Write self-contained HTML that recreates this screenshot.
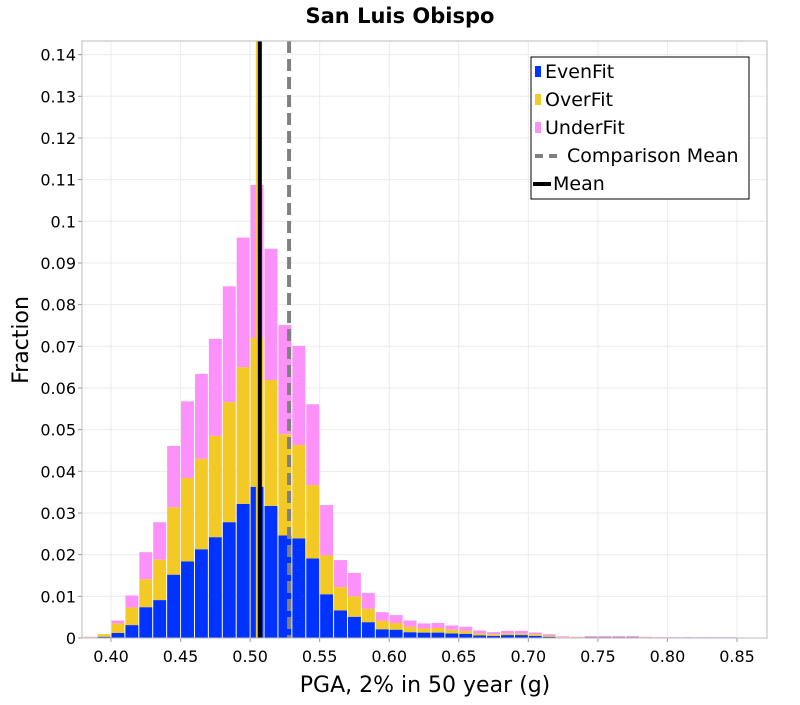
<!DOCTYPE html>
<html><head><meta charset="utf-8"><style>
body{margin:0;background:#fff;}
svg text{font-family:"DejaVu Sans","Liberation Sans",sans-serif;}
</style></head><body>
<svg id="chart" width="800" height="700" xmlns="http://www.w3.org/2000/svg">
<text x="400" y="23" text-anchor="middle" font-size="21" font-weight="bold">San Luis Obispo</text>
<g id="grid"></g><g id="bars"></g><g id="lines"></g><g id="axes"></g>
<text x="425" y="692" text-anchor="middle" font-size="22">PGA, 2% in 50 year (g)</text>
<text transform="translate(28,340) rotate(-90)" text-anchor="middle" font-size="22">Fraction</text>
<g>
<rect x="531" y="57" width="218" height="142" fill="#fff" stroke="#000" stroke-width="1"/>
<rect x="535" y="66" width="6" height="11" fill="#0033ff"/><text x="545" y="78" font-size="19">EvenFit</text>
<rect x="535" y="94" width="6" height="11" fill="#f2c925"/><text x="545" y="106" font-size="19">OverFit</text>
<rect x="535" y="122" width="6" height="11" fill="#fc92f9"/><text x="545" y="134" font-size="19">UnderFit</text>
<line x1="535" y1="156" x2="563" y2="156" stroke="#808080" stroke-width="4" stroke-dasharray="8,6"/><text x="567" y="162" font-size="19">Comparison Mean</text>
<line x1="533" y1="184" x2="551" y2="184" stroke="#000" stroke-width="4"/><text x="553" y="190" font-size="19">Mean</text>
</g>
</svg>
<script>
const binStarts=[0.38,0.39,0.40,0.41,0.42,0.43,0.44,0.45,0.46,0.47,0.48,0.49,0.50,0.51,0.52,0.53,0.54,0.55,0.56,0.57,0.58,0.59,0.60,0.61,0.62,0.63,0.64,0.65,0.66,0.67,0.68,0.69,0.70,0.71,0.72,0.73,0.74,0.75,0.76,0.77,0.78,0.79,0.80,0.81,0.82,0.83,0.84,0.85];
const evenFit=[0.0001,0.0003,0.0012,0.0031,0.0074,0.0091,0.0152,0.0184,0.0213,0.0242,0.0278,0.0322,0.0363,0.0317,0.0246,0.0239,0.0191,0.0105,0.0066,0.0051,0.0038,0.0021,0.0020,0.0014,0.0013,0.0013,0.0011,0.0010,0.0006,0.0005,0.0007,0.0007,0.0005,0.0003,0.0001,0.0001,0.0002,0.0002,0.0002,0.0002,0.0001,0.0001,0.0001,0.0001,0.0001,0.0001,0.0001,0.0001];
const overFit=[0.0001,0.0006,0.0023,0.0042,0.0067,0.0097,0.0162,0.0200,0.0217,0.0243,0.0288,0.0328,0.0358,0.0302,0.0243,0.0224,0.0176,0.0093,0.0056,0.0049,0.0032,0.0020,0.0016,0.0013,0.0010,0.0011,0.0009,0.0007,0.0005,0.0004,0.0004,0.0004,0.0004,0.0003,0.0001,0.0001,0.0001,0.0001,0.0001,0.0001,0.0001,0.0000,0.0000,0.0000,0.0000,0.0000,0.0000,0.0000];
const underFit=[0.0001,0.0000,0.0007,0.0029,0.0065,0.0090,0.0147,0.0184,0.0204,0.0233,0.0278,0.0311,0.0366,0.0315,0.0262,0.0238,0.0194,0.0121,0.0065,0.0056,0.0038,0.0021,0.0019,0.0015,0.0012,0.0012,0.0010,0.0010,0.0007,0.0005,0.0006,0.0006,0.0004,0.0003,0.0002,0.0001,0.0002,0.0002,0.0002,0.0002,0.0001,0.0001,0.0001,0.0001,0.0001,0.0001,0.0001,0.0000];
const binWidth=0.01;
const meanValue=0.507;
const comparisonMean=0.528;
const xTicks=[0.40,0.45,0.50,0.55,0.60,0.65,0.70,0.75,0.80,0.85];
const xTickLabels=["0.40","0.45","0.50","0.55","0.60","0.65","0.70","0.75","0.80","0.85"];
const yTicks=[0,0.01,0.02,0.03,0.04,0.05,0.06,0.07,0.08,0.09,0.1,0.11,0.12,0.13,0.14];
const yTickLabels=["0","0.01","0.02","0.03","0.04","0.05","0.06","0.07","0.08","0.09","0.1","0.11","0.12","0.13","0.14"];

const L=82,R=767,T=41,B=638;
const xs=v=>111+(v-0.40)*(626/0.45);
const ys=v=>638-v*4167;
const NS="http://www.w3.org/2000/svg";
function mk(tag,parent,attrs){const e=document.createElementNS(NS,tag);for(const k in attrs)e.setAttribute(k,attrs[k]);parent.appendChild(e);return e;}
const grid=document.getElementById('grid'),bars=document.getElementById('bars'),lines=document.getElementById('lines'),axes=document.getElementById('axes');
xTicks.forEach((t,i)=>{
  const g=mk('line',grid,{x1:xs(t),x2:xs(t),y1:T,y2:B,stroke:'#ebebeb','stroke-width':1});
  
  
  mk('line',axes,{x1:xs(t),x2:xs(t),y1:B,y2:B+4,stroke:'#999'});
  const tx=mk('text',axes,{x:xs(t),y:B+24,'text-anchor':'middle','font-size':16});
  tx.textContent=xTickLabels[i];
  
  
});
yTicks.forEach((t,i)=>{
  const g=mk('line',grid,{x1:L,x2:R,y1:ys(t),y2:ys(t),stroke:'#ebebeb','stroke-width':1});
  
  
  mk('line',axes,{x1:L-4,x2:L,y1:ys(t),y2:ys(t),stroke:'#999'});
  const tx=mk('text',axes,{x:L-6,y:ys(t)+6,'text-anchor':'end','font-size':16});
  tx.textContent=yTickLabels[i];
  
  
});
mk('rect',axes,{x:L,y:T,width:R-L,height:B-T,fill:'none',stroke:'#bbb'});
binStarts.forEach((s,i)=>{
  const x0=xs(s)+0.5,w=xs(s+binWidth)-xs(s)-1;
  let base=0;
  [[evenFit[i],'#0033ff','evenfit-bar'],[overFit[i],'#f2c925','overfit-bar'],[underFit[i],'#fc92f9','underfit-bar']].forEach(([v,c,n])=>{
    if(v<=0)return;
    const r=mk('rect',bars,{x:x0,y:ys(base+v),width:w,height:ys(base)-ys(base+v),fill:c});
    
    
    base+=v;
  });
});
const cm=mk('line',lines,{x1:xs(comparisonMean),x2:xs(comparisonMean),y1:T,y2:B,stroke:'#808080','stroke-width':4,'stroke-dasharray':'12,6'});


const ol=mk('line',lines,{x1:xs(meanValue)-3,x2:xs(meanValue)-3,y1:T,y2:B,stroke:'#f2c925','stroke-width':2});


const ml=mk('line',lines,{x1:xs(meanValue),x2:xs(meanValue),y1:T,y2:B,stroke:'#000','stroke-width':4});


</script>
</body></html>
